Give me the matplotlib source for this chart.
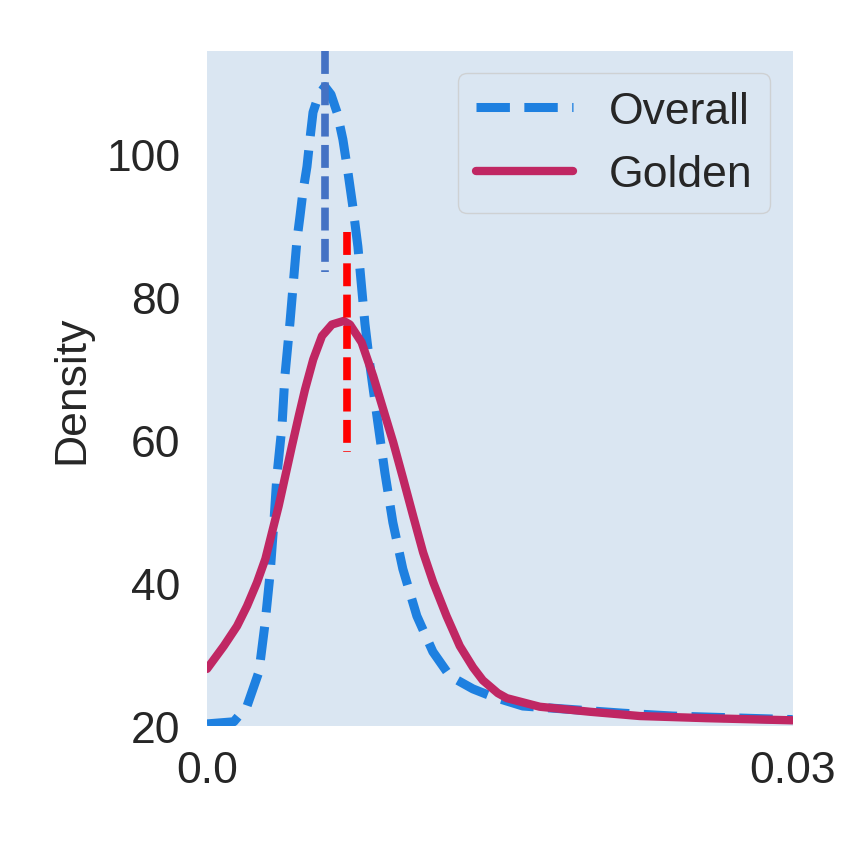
import matplotlib
matplotlib.use("Agg")
import matplotlib.pyplot as plt

plt.rcParams['font.family'] = ['Liberation Sans', 'DejaVu Sans']

# values
overall_x = [0.0, 0.00137, 0.00205, 0.00266, 0.00297, 0.00323, 0.00342, 0.00358,
             0.00384, 0.00399, 0.00425, 0.00461, 0.00476, 0.00491, 0.00512, 0.00527,
             0.00543, 0.00573, 0.00604, 0.00635, 0.00666, 0.00696, 0.00722, 0.00747,
             0.00773, 0.00809, 0.00835, 0.00875, 0.00911, 0.00952, 0.01003, 0.01075,
             0.01157, 0.01244, 0.01362, 0.01464, 0.01618, 0.01874, 0.02130, 0.02386,
             0.03]
overall_y = [20.3, 20.6, 22.8, 27.6, 34.3, 41.3, 48.3, 55.0,
             62.0, 69.0, 76.5, 88.1, 91.3, 94.7, 98.3, 102.1,
             105.9, 108.4, 109.5, 108.4, 105.9, 102.1, 97.5, 92.7,
             87.1, 76.3, 70.4, 62.5, 55.5, 48.5, 42.0, 35.4,
             30.4, 27.0, 25.2, 24.1, 22.8, 22.3, 21.8, 21.4,
             20.9]

golden_x = [0.0, 0.00086, 0.00154, 0.00205, 0.00256, 0.00299, 0.00333, 0.00367,
            0.00401, 0.00435, 0.00470, 0.00502, 0.00544, 0.00589, 0.00640, 0.00700,
            0.00732, 0.00792, 0.00851, 0.00903, 0.00954, 0.01005, 0.01056, 0.01107,
            0.01159, 0.01227, 0.01295, 0.01363, 0.01413, 0.01490, 0.01536, 0.01705,
            0.01961, 0.02217, 0.02560, 0.03]
golden_y = [28.0, 31.2, 34.0, 36.8, 40.1, 43.4, 47.1, 50.8,
            55.0, 59.2, 63.4, 67.1, 71.3, 74.6, 76.2, 76.7,
            76.2, 73.7, 69.0, 64.3, 59.7, 54.6, 49.4, 44.3,
            40.1, 35.4, 31.2, 28.2, 26.4, 24.6, 23.9, 22.7,
            22.0, 21.4, 21.1, 20.8]

overall_mark_x = 0.00604
overall_mark_y = (114.5, 83.6)
golden_mark_x = 0.00717
golden_mark_y = (89.1, 58.3)

fig = plt.figure(figsize=(8.45, 8.45), dpi=100)
ax = fig.add_axes([0.245, 0.1396, 0.693, 0.799])
ax.set_facecolor('#dae6f2')
for s in ax.spines.values():
    s.set_visible(False)

ax.plot(overall_x, overall_y, '--', color='#1e80e0', lw=6.5, label='Overall')
ax.plot(golden_x, golden_y, '-', color='#c02763', lw=6, label='Golden',
        solid_capstyle='round', solid_joinstyle='round')
ax.plot([overall_mark_x] * 2, overall_mark_y, color='#4472c4', lw=5.5,
        dashes=(3.0, 1.1))
ax.plot([golden_mark_x] * 2, golden_mark_y, color='#ff0000', lw=5.5,
        dashes=(3.0, 1.1))

ax.set_xlim(0, 0.03)
ax.set_ylim(20, 114.5)
ax.set_xticks([0.0, 0.03])
ax.set_xticklabels(['0.0', '0.03'])
ax.set_yticks([20, 40, 60, 80, 100])
ax.tick_params(axis='both', length=0, labelsize=32, colors='#262626')
ax.tick_params(axis='y', pad=19)
ax.tick_params(axis='x', pad=17)
ax.set_ylabel('Density', fontsize=32, color='#262626', labelpad=10)

leg = ax.legend(loc='upper right', fontsize=32, handlelength=2.2,
                facecolor='#dae6f2', edgecolor='#cccccc', framealpha=0.8,
                borderaxespad=0.5)
for t in leg.get_texts():
    t.set_color('#262626')

fig.savefig('out.png', dpi=100)
